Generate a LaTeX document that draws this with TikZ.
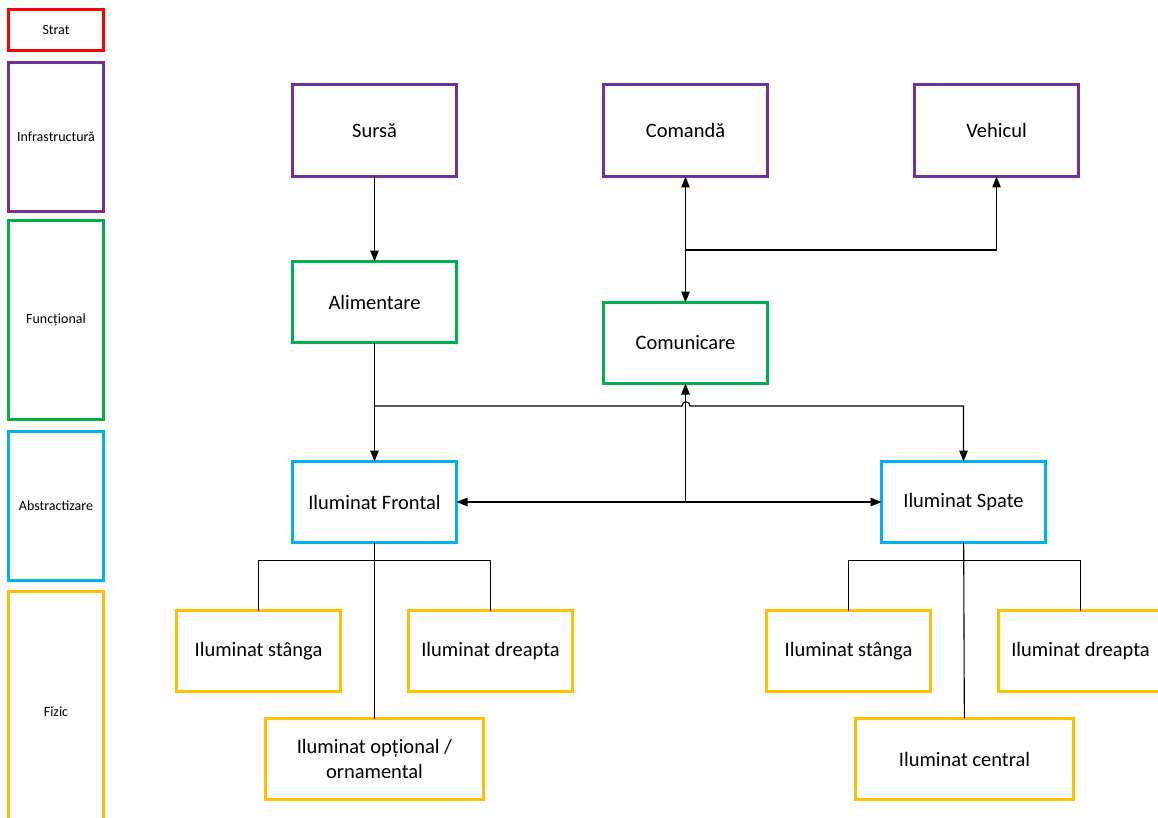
\documentclass[tikz,border=0pt]{standalone}
\usepackage{fontspec}
\setmainfont{Carlito}
\usetikzlibrary{arrows.meta}
\definecolor{cred}{HTML}{FF0000}
\definecolor{cpurple}{HTML}{7030A0}
\definecolor{cgreen}{HTML}{00B050}
\definecolor{cblue}{HTML}{00B0F0}
\definecolor{cyellow}{HTML}{FFC000}
\tikzset{
  box/.style={draw, line width=3pt, minimum width=164pt, minimum height=81pt, anchor=north west, outer sep=0pt, inner sep=2pt, align=center, font=\fontsize{20.5}{25}\selectfont},
  wide/.style={box, minimum width=218pt},
  tall/.style={minimum height=92pt},
  layer/.style={draw, line width=3pt, minimum width=95pt, anchor=north west, outer sep=0pt, inner sep=0pt, font=\fontsize{14}{16}\selectfont},
  arr/.style={line width=1.1pt, -{Triangle[length=11pt,width=8.5pt]}},
  arrb/.style={line width=1.1pt, {Triangle[length=11pt,width=8.5pt]}-{Triangle[length=11pt,width=8.5pt]}},
  ln/.style={line width=1.1pt},
}
\begin{document}
\begin{tikzpicture}[x=1pt,y=-1pt]
\useasboundingbox (0,0) rectangle (1158,818);
\clip (0,0) rectangle (1158,818);
\fill[white] (0,0) rectangle (1158,818);
% layer column
\node[layer, cred, text=black, minimum height=41pt] (strat) at (8.5,9.5) {Strat};
\node[layer, cpurple, text=black, minimum height=149pt] (infra) at (8.5,62.5) {Infrastructură};
\node[layer, cgreen, text=black, minimum height=199pt] (func) at (8.5,220.5) {Funcțional};
\node[layer, cblue, text=black, minimum height=149pt] (abs) at (8.5,431.5) {Abstractizare};
\node[layer, cyellow, text=black, minimum height=240pt] (fiz) at (8.5,591.5) {Fizic};
% main boxes
\node[box, tall, cpurple, text=black] (sursa) at (292.5,84.5) {Sursă};
\node[box, tall, cpurple, text=black] (cmd) at (603.5,84.5) {Comandă};
\node[box, tall, cpurple, text=black] (veh) at (914.5,84.5) {Vehicul};
\node[box, cgreen, text=black] (alim) at (292.5,261.5) {Alimentare};
\node[box, cgreen, text=black] (comm) at (603.5,302.5) {Comunicare};
\node[box, cblue, text=black] (front) at (292.5,461.5) {Iluminat Frontal};
\node[box, cblue, text=black] (spate) at (881.5,461.5) {Iluminat Spate};
\node[box, cyellow, text=black] (stL) at (176.5,610.5) {Iluminat stânga};
\node[box, cyellow, text=black] (drL) at (408.5,610.5) {Iluminat dreapta};
\node[wide, cyellow, text=black] (orn) at (265.5,718.5) {Iluminat opțional /\\ornamental};
\node[box, cyellow, text=black] (stR) at (766.5,610.5) {Iluminat stânga};
\node[box, cyellow, text=black] (drR) at (998.5,610.5) {Iluminat dreapta};
\node[wide, cyellow, text=black] (cen) at (855.5,718.5) {Iluminat central};
% connectors
\draw[arr] (sursa) -- (alim);
\draw[arrb] (cmd) -- (comm);
\coordinate (j1) at (686,250);
\draw[arr] (j1) -| (veh);
\draw[arr] (alim) -- (front);
\coordinate (j2) at (375,406);
\coordinate (h1) at (682,406);
\coordinate (h2) at (690,406);
\draw[arr] (j2) -- (h1) .. controls (682,400.5) and (690,400.5) .. (h2) -| (spate);
\coordinate (j3) at (front.east -| comm);
\draw[arr] (j3) -- (comm);
\draw[arrb] (front) -- (spate);
% physical children
\draw[ln] (front) -- (orn);
\draw[ln] (stL.north) -- ++(0,-50) -| (drL.north);
\draw[ln] (spate) -- (cen);
\draw[ln] (stR.north) -- ++(0,-50) -| (drR.north);
\end{tikzpicture}
\end{document}
